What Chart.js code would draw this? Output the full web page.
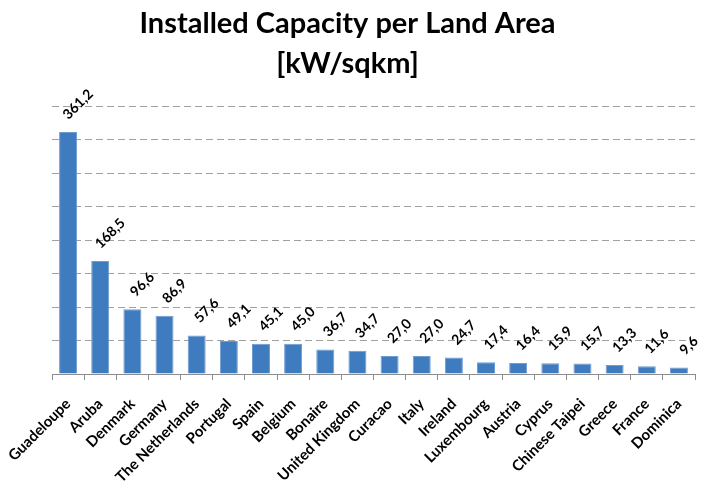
<!DOCTYPE html>
<html><head><meta charset="utf-8">
<script src="https://cdn.jsdelivr.net/npm/chart.js@4/dist/chart.umd.min.js"></script>
<style>html,body{margin:0;padding:0;background:#fff}#wrap{width:710px;height:490px}</style>
</head><body><div id="wrap"><canvas id="c" width="710" height="490"></canvas></div>
<script>
const categories = ['Guadeloupe','Aruba','Denmark','Germany','The Netherlands','Portugal','Spain','Belgium','Bonaire','United Kingdom','Curacao','Italy','Ireland','Luxembourg','Austria','Cyprus','Chinese Taipei','Greece','France','Dominica'];
const values = [361.2,168.5,96.6,86.9,57.6,49.1,45.1,45.0,36.7,34.7,27.0,27.0,24.7,17.4,16.4,15.9,15.7,13.3,11.6,9.6];
const titleLines = ['Installed Capacity per Land Area','[kW/sqkm]'];
const yMin = 0, yMax = 400, yStep = 50;

const FONT = 'Lato';

const dataLabels = {
  id: 'dataLabels',
  afterDatasetsDraw(chart) {
    const ctx = chart.ctx;
    const meta = chart.getDatasetMeta(0);
    ctx.save();
    ctx.font = 'bold 14px ' + FONT;
    ctx.fillStyle = '#000';
    ctx.textAlign = 'left';
    ctx.textBaseline = 'middle';
    meta.data.forEach((bar, i) => {
      const txt = values[i].toFixed(1).replace('.', ',');
      const w = ctx.measureText(txt).width;
      const ax = bar.x + 10 - 0.354 * w;
      const ay = bar.y - 15;
      ctx.save();
      ctx.translate(ax, ay);
      ctx.rotate(-Math.PI / 4);
      ctx.fillText(txt, 0, 0);
      ctx.restore();
    });
    ctx.restore();
  }
};

new Chart(document.getElementById('c'), {
  type: 'bar',
  data: {
    labels: categories,
    datasets: [{
      data: values,
      backgroundColor: '#3f7bbf',
      borderColor: '#6f9bd1',
      borderWidth: 1,
      barPercentage: 0.56,
      categoryPercentage: 1
    }]
  },
  options: {
    responsive: false,
    devicePixelRatio: 1,
    animation: false,
    layout: { padding: { top: 0, right: 15, left: 0, bottom: 0 } },
    plugins: {
      legend: { display: false },
      tooltip: { enabled: false },
      title: {
        display: true,
        text: titleLines,
        color: '#000',
        font: { family: FONT, size: 29, weight: 'bold', lineHeight: 1.38 },
        padding: { top: 4, bottom: 22 }
      }
    },
    scales: {
      x: {
        grid: { display: true, drawOnChartArea: false, drawTicks: true, tickLength: 6, color: '#8c8c8c' },
        border: { display: true, color: '#8c8c8c', width: 1 },
        ticks: {
          font: { family: FONT, size: 15, weight: 'bold' },
          color: '#000',
          maxRotation: 45, minRotation: 45, autoSkip: false, padding: 15
        },
        afterFit(s) { s.height = 116; s.paddingLeft = 0; s.paddingRight = 0; }
      },
      y: {
        min: yMin, max: yMax,
        ticks: { display: false, stepSize: yStep },
        grid: {
          drawTicks: false,
          color: (c) => c.tick && c.tick.value === 0 ? 'rgba(0,0,0,0)' : '#a0a0a0'
        },
        border: { display: false, dash: [7, 4] },
        afterFit(s) { s.width = 52; }
      }
    }
  },
  plugins: [dataLabels]
});
</script>
</body></html>
